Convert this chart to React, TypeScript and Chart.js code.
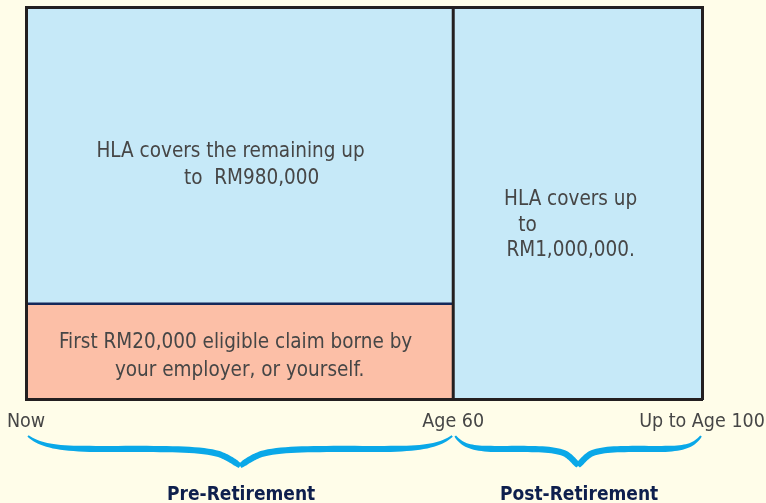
import React, { useEffect, useRef } from 'react';
import { Chart, registerables } from 'chart.js';

Chart.register(...registerables);

// Timeline (schematic position along the bar, 0 = Now, 100 = Age 100)
const stageBounds = [0, 63.2, 100];
const stageTickLabels = ['Now', 'Age 60', 'Up to Age 100'];
const stageNames = ['Pre-Retirement', 'Post-Retirement'];

// Coverage layers (schematic share of the box height)
const preEmployerLayer = [0, 24.3];
const preHlaLayer = [24.3, 100];
const postHlaLayer = [0, 100];

const preHlaText = ['HLA covers the remaining up', 'to  RM980,000'];
const postHlaText = ['HLA covers up', 'to', 'RM1,000,000.'];
const employerText = ['First RM20,000 eligible claim borne by', 'your employer, or yourself.'];

const BG = '#fffde9';
const BLUE = '#c6e9f8';
const SALMON = '#fcbfa7';
const EDGE = '#231f20';
const NAVY = '#14285a';
const TEXT = '#464646';
const BRACE = '#0aa8e8';
const FONT = '"DejaVu Sans Condensed", "DejaVu Sans", sans-serif';

function rect(x0: number, x1: number, layer: number[], color: string, border?: string) {
  return {
    type: 'line' as const,
    data: [
      { x: x0, y: layer[1] },
      { x: x1, y: layer[1] },
    ],
    fill: { value: layer[0] },
    backgroundColor: color,
    borderColor: border || 'rgba(0,0,0,0)',
    borderWidth: border ? 2.5 : 0,
    pointRadius: 0,
    tension: 0,
  };
}

const textPlugin = {
  id: 'boxText',
  afterDatasetsDraw(chart: any) {
    const { ctx, scales } = chart;
    const x = scales.x;
    const y = scales.y;
    const blocks = [
      { lines: preHlaText, x0: stageBounds[0], x1: stageBounds[1], y: 63.7, lh: 27.5, dx: [-9, 12] },
      { lines: postHlaText, x0: stageBounds[1], x1: stageBounds[2], y: 51.3, lh: 25.5, dx: [-7, -50, -7] },
      { lines: employerText, x0: stageBounds[0], x1: stageBounds[1], y: 14.8, lh: 28, dx: [-4, 0] },
    ];
    ctx.save();
    ctx.fillStyle = TEXT;
    ctx.font = `20.5px ${FONT}`;
    ctx.textAlign = 'center';
    ctx.textBaseline = 'alphabetic';
    blocks.forEach((b) => {
      const cx = (x.getPixelForValue(b.x0) + x.getPixelForValue(b.x1)) / 2;
      const cy = y.getPixelForValue(b.y);
      b.lines.forEach((t, i) => {
        ctx.fillText(t, cx + b.dx[i], cy + i * b.lh + 7.5);
      });
    });
    ctx.restore();
  },
};

type P = [number, number];
function cubic(p0: P, p1: P, p2: P, p3: P, t: number): P {
  const u = 1 - t;
  return [
    u * u * u * p0[0] + 3 * u * u * t * p1[0] + 3 * u * t * t * p2[0] + t * t * t * p3[0],
    u * u * u * p0[1] + 3 * u * u * t * p1[1] + 3 * u * t * t * p2[1] + t * t * t * p3[1],
  ];
}

const bracePlugin = {
  id: 'braces',
  afterDraw(chart: any) {
    const { ctx, scales, chartArea } = chart;
    const x = scales.x;
    const yTop = chartArea.bottom + 37;
    const yFlat = chartArea.bottom + 50;
    const yTip = chartArea.bottom + 67;
    ctx.save();
    ctx.fillStyle = BRACE;
    for (let s = 0; s < stageNames.length; s++) {
      const a = x.getPixelForValue(stageBounds[s]) + 2;
      const b = x.getPixelForValue(stageBounds[s + 1]) - 1;
      const m = (a + b) / 2;
      const w = m - a;
      const halfPts = (xa: number, d: number): P[] => {
        const X = (f: number) => xa + d * f * w;
        const segs: P[][] = [
          [[xa, yTop], [X(0.06), yFlat - 3], [X(0.14), yFlat], [X(0.35), yFlat]],
          [[X(0.35), yFlat], [X(0.6), yFlat], [X(0.8), yFlat - 1], [X(0.9), yFlat + 5]],
          [[X(0.9), yFlat + 5], [X(0.95), yFlat + 9], [X(0.98), yTip - 3], [m, yTip]],
        ];
        const pts: P[] = [];
        segs.forEach((sg, k) => {
          for (let i = k === 0 ? 0 : 1; i <= 20; i++) pts.push(cubic(sg[0], sg[1], sg[2], sg[3], i / 20));
        });
        return pts;
      };
      [halfPts(a, 1), halfPts(b, -1)].forEach((pts) => {
        const n = pts.length;
        const left: P[] = [];
        const right: P[] = [];
        pts.forEach((p, i) => {
          const q0 = pts[Math.max(0, i - 1)];
          const q1 = pts[Math.min(n - 1, i + 1)];
          let dx = q1[0] - q0[0];
          let dy = q1[1] - q0[1];
          const len = Math.hypot(dx, dy) || 1;
          dx /= len;
          dy /= len;
          const u = i / (n - 1);
          const th = (u < 0.3 ? 2 + (u / 0.3) * 4.2 : u > 0.9 ? 6.2 - ((u - 0.9) / 0.1) * 1.5 : 6.2) / 2;
          left.push([p[0] - dy * th, p[1] + dx * th]);
          right.push([p[0] + dy * th, p[1] - dx * th]);
        });
        ctx.beginPath();
        ctx.moveTo(left[0][0], left[0][1]);
        left.forEach((p) => ctx.lineTo(p[0], p[1]));
        for (let i = right.length - 1; i >= 0; i--) ctx.lineTo(right[i][0], right[i][1]);
        ctx.closePath();
        ctx.fill();
      });
      ctx.fillStyle = '#0e1f4d';
      ctx.font = `bold 19px ${FONT}`;
      ctx.textAlign = 'center';
      ctx.textBaseline = 'alphabetic';
      ctx.fillText(stageNames[s], m + 1, chartArea.bottom + 101);
      ctx.fillStyle = BRACE;
    }
    ctx.restore();
  },
};

export default function App() {
  const ref = useRef<HTMLCanvasElement>(null);
  useEffect(() => {
    if (!ref.current) return;
    const edge = { display: true, color: EDGE, width: 3, z: 1 };
    const chart = new Chart(ref.current, {
      type: 'line',
      data: {
        datasets: [
          {
            type: 'line',
            data: [
              { x: stageBounds[1], y: 0 },
              { x: stageBounds[1], y: 100 },
            ],
            borderColor: EDGE,
            borderWidth: 3,
            pointRadius: 0,
            fill: false,
          },
          rect(stageBounds[0], stageBounds[1], preEmployerLayer, SALMON, NAVY),
          rect(stageBounds[0], stageBounds[1], preHlaLayer, BLUE),
          rect(stageBounds[1], stageBounds[2], postHlaLayer, BLUE),
        ] as any,
      },
      options: {
        animation: false,
        responsive: true,
        maintainAspectRatio: false,
        layout: { padding: { left: 26, right: 64, top: 7, bottom: 0 } },
        plugins: { legend: { display: false }, tooltip: { enabled: false } },
        scales: {
          x: {
            type: 'linear',
            min: 0,
            max: 100,
            grid: { display: false, drawTicks: false },
            border: edge,
            afterBuildTicks: (axis: any) => {
              axis.ticks = stageBounds.map((v) => ({ value: v }));
            },
            afterFit: (s: any) => {
              s.height = 104;
              s.paddingLeft = 0;
              s.paddingRight = 0;
            },
            ticks: {
              autoSkip: false,
              maxRotation: 0,
              padding: 11,
              color: TEXT,
              font: { family: FONT, size: 19.5 },
              callback: (_v: any, i: number) => stageTickLabels[i],
            },
          },
          xTop: {
            type: 'linear',
            position: 'top',
            min: 0,
            max: 100,
            grid: { display: false, drawTicks: false },
            border: edge,
            ticks: { display: false },
            afterFit: (s: any) => {
              s.height = 0;
            },
          },
          y: {
            type: 'linear',
            min: 0,
            max: 100,
            grid: { display: false, drawTicks: false },
            border: edge,
            ticks: { display: false },
            afterFit: (s: any) => {
              s.width = 0;
            },
          },
          yRight: {
            type: 'linear',
            position: 'right',
            min: 0,
            max: 100,
            grid: { display: false, drawTicks: false },
            border: edge,
            ticks: { display: false },
            afterFit: (s: any) => {
              s.width = 0;
            },
          },
        },
      } as any,
      plugins: [textPlugin, bracePlugin],
    });
    return () => chart.destroy();
  }, []);
  return (
    <div style={{ position: 'fixed', left: 0, top: 0, width: 766, height: 503, background: BG }}>
      <canvas ref={ref} />
    </div>
  );
}
